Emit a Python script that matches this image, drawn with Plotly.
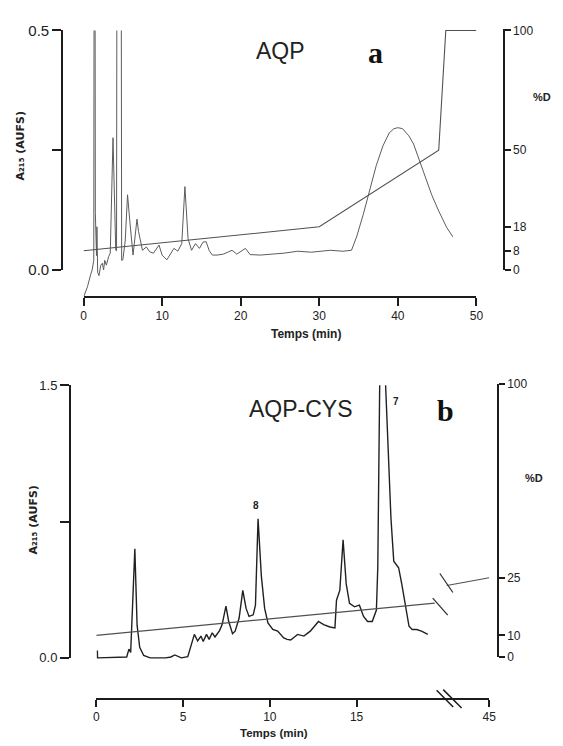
import numpy as np
import plotly.graph_objects as go

W, H = 563, 746

# ---------------- Panel a : AQP ----------------
time_a = [0.05, 0.5, 0.9, 1.1, 1.3, 1.4, 1.5, 1.55, 1.6, 1.65, 1.7, 1.8, 1.96, 2.2, 2.4, 2.55,
          2.7, 2.9, 3.2, 3.4, 3.75, 4.1, 4.2, 4.5, 4.85, 5.0, 5.3, 5.6, 5.9, 6.3, 6.8, 7.0,
          7.5, 8.0, 8.4, 8.9, 9.6, 10.0, 10.6, 11.0, 11.5, 12.0, 12.5, 12.9, 13.3, 13.75,
          14.25, 14.75, 15.2, 15.6, 16.0, 16.4, 17.0, 17.8, 18.9, 19.5, 20.6, 21.2, 22.5,
          24.0, 25.5, 27.25, 29.0, 31.4, 33.0, 34.1, 34.75, 35.6, 36.4, 37.25, 38.1, 38.9,
          39.5, 40.0, 40.6, 41.4, 42.0, 42.7, 43.5, 44.3, 45.2, 46.2, 47.0]
abs_a = [-0.055, -0.035, -0.01, 0.0, 0.02, 1.5, 0.12, 0.06, 0.11, 0.03, 0.09, -0.005, -0.012,
         0.01, 0.014, 0.0, 0.02, 0.01, 0.028, 0.035, 0.276, 0.041, 0.04, 4.0, 0.02, 0.021,
         0.06, 0.157, 0.10, 0.031, 0.106, 0.08, 0.041, 0.048, 0.038, 0.035, 0.052, 0.031,
         0.021, 0.031, 0.045, 0.039, 0.055, 0.174, 0.065, 0.041, 0.055, 0.045, 0.058, 0.059,
         0.04, 0.031, 0.031, 0.033, 0.041, 0.033, 0.045, 0.032, 0.031, 0.033, 0.035, 0.039,
         0.037, 0.041, 0.039, 0.041, 0.069, 0.116, 0.164, 0.218, 0.259, 0.286, 0.295, 0.297,
         0.295, 0.280, 0.263, 0.232, 0.195, 0.157, 0.123, 0.089, 0.069]
grad_time_a = [0, 30, 45.2, 46.1, 50]
grad_pct_a = [8, 18, 50, 100, 100]
xticks_a = [0, 10, 20, 30, 40, 50]
abs_ticks_a = [0, 0.5]
abs_ticktext_a = ["0.0", "0.5"]
abs_minor_a = [0.25]
pct_ticks_a = [0, 8, 18, 50, 100]

# ---------------- Panel b : AQP-CYS ----------------
time_b = [0.06, 0.07, 1.75, 1.88, 1.98, 2.22, 2.35, 2.5, 2.73, 3.1, 4.0, 4.3, 4.52, 4.9, 5.27,
          5.46, 5.65, 5.84, 6.03, 6.16, 6.35, 6.5, 6.68, 6.84, 7.1, 7.25, 7.47, 7.63, 7.85,
          8.0, 8.23, 8.44, 8.63, 8.8, 9.04, 9.17, 9.32, 9.51, 9.7, 9.89, 10.17, 10.45, 10.8,
          11.0, 11.2, 11.6, 11.96, 12.33, 12.8, 13.1, 13.46, 13.75, 13.84, 14.03, 14.22,
          14.4, 14.59, 14.88, 15.16, 15.4, 15.63, 15.9, 16.14, 16.22, 16.32, 16.45, 16.67,
          16.98, 17.14, 17.42, 17.6, 17.8, 18.02, 18.2, 18.46, 18.74, 19.1]
abs_b = [0.04, 0.0, 0.005, 0.048, 0.03, 0.60, 0.18, 0.058, 0.013, 0.0, 0.0, 0.005, 0.016, 0.0,
         0.007, 0.066, 0.129, 0.093, 0.12, 0.09, 0.129, 0.102, 0.138, 0.115, 0.15, 0.183,
         0.285, 0.2, 0.133, 0.147, 0.219, 0.371, 0.272, 0.228, 0.237, 0.29, 0.765, 0.45,
         0.272, 0.192, 0.156, 0.147, 0.11, 0.102, 0.098, 0.129, 0.12, 0.147, 0.2, 0.183,
         0.17, 0.165, 0.317, 0.371, 0.649, 0.407, 0.3, 0.281, 0.29, 0.228, 0.2, 0.2, 0.263,
         0.5, 1.5, 2.6, 1.5, 0.765, 0.532, 0.496, 0.407, 0.3, 0.174, 0.156, 0.156, 0.147,
         0.129]
grad_b_seg1_time = [0, 19.5]
grad_b_seg1_pct = [10, 18.4]
grad_b_seg2_time = [43, 45]
grad_b_seg2_pct = [23, 25]
xticks_b = [0, 5, 10, 15, 45]
abs_ticks_b = [0, 1.5]
abs_ticktext_b = ["0.0", "1.5"]
abs_minor_b = [0.75]
pct_ticks_b = [0, 10, 25, 100]
peak_labels_b = ["8", "7"]


def break_x(t):
    """broken time axis of panel b (0-20 min linear, then jump to 45 min)"""
    return np.interp(np.asarray(t, float), [0, 20, 43, 45], [0, 20, 20.2, 22.64])


def pct_b_scale(p):
    """non-linear %D scale used on the right axis of panel b"""
    return np.interp(np.asarray(p, float), [0, 10, 25, 100], [0, 7.9, 29.0, 100])


def px(x):
    return x / W


def py(y):
    return 1 - y / H


INK = "#1c1c1c"
FONT = "Liberation Sans, Arial, sans-serif"

fig = go.Figure()
fig.add_trace(go.Scatter(x=time_a, y=abs_a, xaxis="x", yaxis="y", mode="lines",
                         line=dict(color="#5c5c5c", width=1)))
fig.add_trace(go.Scatter(x=grad_time_a, y=grad_pct_a, xaxis="x", yaxis="y2", mode="lines",
                         line=dict(color="#505050", width=1.1)))
fig.add_trace(go.Scatter(x=[0], y=[0], xaxis="x", yaxis="y3", mode="lines",
                         line=dict(width=0)))

fig.add_trace(go.Scatter(x=break_x(time_b), y=abs_b, xaxis="x2", yaxis="y4", mode="lines",
                         line=dict(color="#202020", width=1.4)))
for tt, pp in [(grad_b_seg1_time, grad_b_seg1_pct), (grad_b_seg2_time, grad_b_seg2_pct)]:
    fig.add_trace(go.Scatter(x=break_x(tt), y=pct_b_scale(pp), xaxis="x2", yaxis="y6",
                             mode="lines", line=dict(color="#505050", width=1.1)))
fig.add_trace(go.Scatter(x=[0], y=[0], xaxis="x2", yaxis="y5", mode="lines",
                         line=dict(width=0)))

axis_style = dict(showline=True, linecolor=INK, linewidth=1.5, ticks="outside",
                  tickcolor=INK, tickwidth=1.5, showgrid=False, zeroline=False,
                  fixedrange=True)

fig.update_layout(
    width=W, height=H, margin=dict(l=0, r=0, t=0, b=0),
    paper_bgcolor="white", plot_bgcolor="rgba(0,0,0,0)",
    showlegend=False, hovermode=False,
    font=dict(family=FONT, color="#222"),
    # panel a
    xaxis=dict(domain=[px(82), px(482)], range=[0, 50], anchor="free", position=py(295),
               tickvals=xticks_a, ticklen=8, tickfont=dict(size=12), **axis_style),
    yaxis=dict(domain=[py(295), py(22)], range=[-28 / 490, 0.5], anchor="x", visible=False),
    yaxis2=dict(domain=[py(267), py(20)], range=[0, 100 * 247 / 245], anchor="free",
                position=px(510), side="right", tickvals=pct_ticks_a, ticklen=6,
                tickfont=dict(size=12), **axis_style),
    yaxis3=dict(domain=[py(267), py(22)], range=[0, 0.5], anchor="free", position=px(60),
                side="left", tickvals=abs_ticks_a, ticktext=abs_ticktext_a, ticklen=9,
                minor=dict(tickmode="array", tickvals=abs_minor_a, ticks="outside",
                           ticklen=9, tickwidth=1.5, tickcolor=INK, showgrid=False),
                tickfont=dict(size=15), **axis_style),
    # panel b
    xaxis2=dict(domain=[px(95), px(495)], range=[0, 22.64], anchor="free", position=py(706),
                tickvals=break_x(xticks_b), ticktext=[str(v) for v in xticks_b], ticklen=7,
                tickfont=dict(size=12), **axis_style),
    yaxis4=dict(domain=[py(706), py(385)], range=[-42 / 186, 1.5], anchor="x2", visible=False),
    yaxis5=dict(domain=[py(664), py(385)], range=[0, 1.5], anchor="free", position=px(68),
                side="left", tickvals=abs_ticks_b, ticktext=abs_ticktext_b, ticklen=9,
                minor=dict(tickmode="array", tickvals=abs_minor_b, ticks="outside",
                           ticklen=9, tickwidth=1.5, tickcolor=INK, showgrid=False),
                tickfont=dict(size=13), **axis_style),
    yaxis6=dict(domain=[py(663), py(384)], range=[0, 100], anchor="free", position=px(504),
                side="right", tickvals=pct_b_scale(pct_ticks_b),
                ticktext=[str(v) for v in pct_ticks_b], ticklen=6,
                tickfont=dict(size=12), **axis_style),
)

ann = []


def text(x, y, s, size, bold=False, family=FONT, angle=0, color="#222"):
    if bold:
        s = "<b>" + s + "</b>"
    ann.append(dict(x=px(x), y=py(y), xref="paper", yref="paper", text=s, showarrow=False,
                    xanchor="center", yanchor="middle", textangle=angle,
                    font=dict(size=size, family=family, color=color)))


SERIF = "Liberation Serif, Times New Roman, serif"
YTITLE = "A\u2082\u2081\u2085 (AUFS)"
text(283, 43, "AQP", 23)
text(379, 45, "a", 30, bold=True, family=SERIF, color="#111")
text(549, 90, "%D", 11, bold=True)
text(308, 333, "Temps (min)", 12, bold=True)
text(18, 140, YTITLE, 11, bold=True, angle=-90, family="DejaVu Sans, sans-serif")

text(303, 409, "AQP-CYS", 23)
text(451, 411, "b", 30, bold=True, family=SERIF, color="#111")
text(541, 480, "%D", 11, bold=True)
text(276, 741, "Temps (min)", 11.5, bold=True)
text(31, 523, YTITLE, 11, bold=True, angle=-90, family="DejaVu Sans, sans-serif")
text(258, 508, peak_labels_b[0], 10, bold=True)
text(400, 402, peak_labels_b[1], 10, bold=True)

fig.update_layout(annotations=ann)

# break marks (anchored to data / axis positions, sized in pixels)
shapes = []
g1x = float(break_x(grad_b_seg1_time[-1]))
g1y = float(pct_b_scale(grad_b_seg1_pct[-1]))
g2x = float(break_x(grad_b_seg2_time[0]))
g2y = float(pct_b_scale(grad_b_seg2_pct[0]))
for (ax, ay, x0, y0, x1, y1) in [(g1x, g1y, -2, 5, 13, -12), (g2x, g2y, -7, 12, 6, -7)]:
    shapes.append(dict(type="line", xref="x2", yref="y6", xsizemode="pixel",
                       ysizemode="pixel", xanchor=ax, yanchor=ay, x0=x0, y0=y0, x1=x1,
                       y1=y1, line=dict(color="#333", width=1.3)))
brk = 20.3
for (x0, y0, x1, y1) in [(-12, 8.7, 4.6, -8), (-5.4, 9.3, 13, -9)]:
    shapes.append(dict(type="line", xref="x2", yref="paper", xsizemode="pixel",
                       ysizemode="pixel", xanchor=brk, yanchor=py(706), x0=x0, y0=y0,
                       x1=x1, y1=y1, line=dict(color=INK, width=1.5)))
fig.update_layout(shapes=shapes)

fig.write_html("out.html")
